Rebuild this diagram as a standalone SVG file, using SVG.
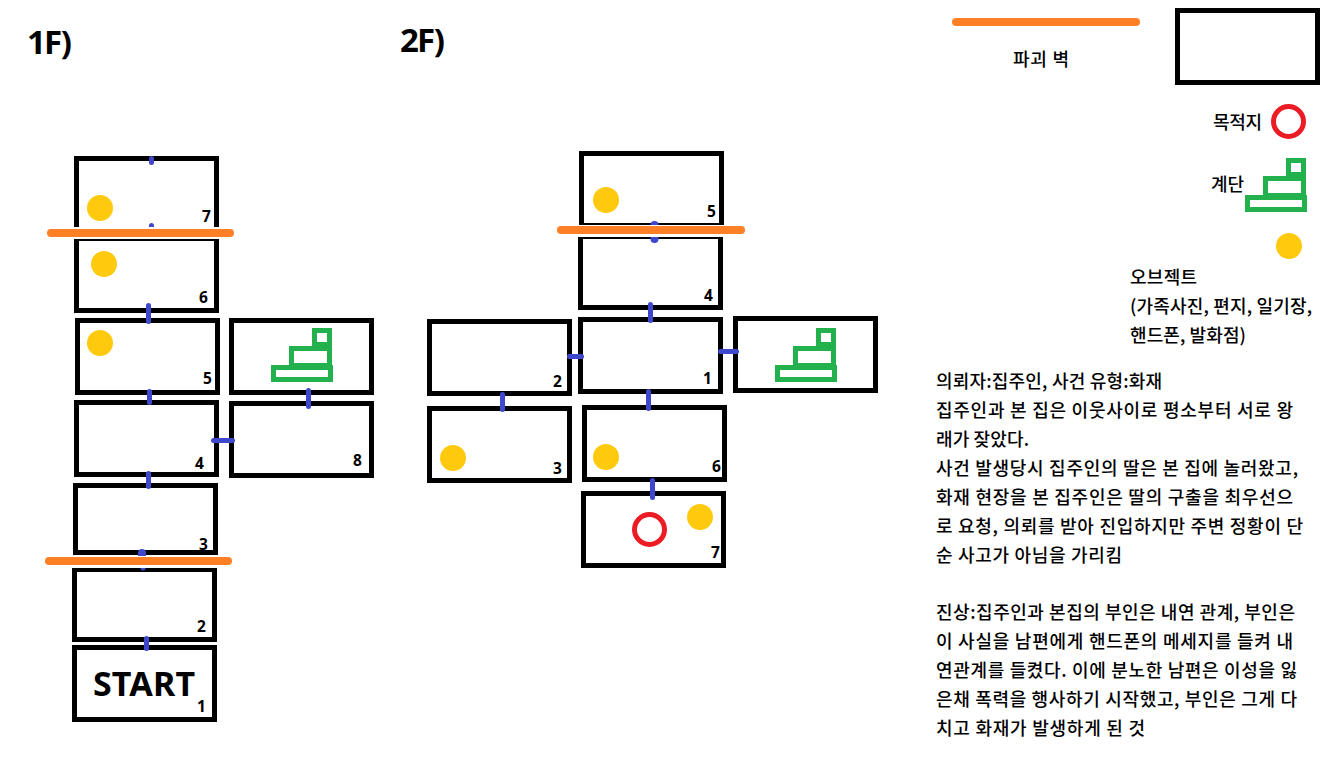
<svg xmlns="http://www.w3.org/2000/svg" width="1328" height="764" viewBox="0 0 1328 764">
<defs>
<style>
.room{fill:#fff;stroke:#000;stroke-width:5}
.door{fill:none;stroke:#3f48cc;stroke-width:5;stroke-linecap:round}
.wall{fill:none;stroke:#ff7f27;stroke-width:8;stroke-linecap:round}
.obj{fill:#ffc90e}
.goal{fill:none;stroke:#ed1c24;stroke-width:5}
.st{fill:none;stroke:#22b14c;stroke-width:5}
.gap{fill:#fff}
text{font-family:"Noto Sans","Noto Sans CJK KR",sans-serif;fill:#000}
.num{font-size:15.5px;font-weight:700}
.title{font-size:33px;font-weight:700}
.start{font-size:34px;font-weight:700}
.ko{font-family:"Noto Sans CJK KR","Noto Sans",sans-serif;font-size:18px;font-weight:500}
</style>
<g id="stairs"><rect class="st" x="2.5" y="39.5" width="57" height="12"/><rect class="st" x="20.5" y="20.5" width="38" height="17"/><rect class="st" x="43.5" y="2.5" width="15" height="14"/></g>
</defs>
<rect width="1328" height="764" fill="#fff"/>
<text class="title" x="27" y="54" textLength="45">1F)</text>
<text class="title" x="400" y="52" textLength="45">2F)</text>

<g id="f1-room-7"><rect class="room" x="76.5" y="158.5" width="140" height="90"/><circle class="obj" cx="100" cy="208" r="13"/><text class="num" x="202" y="222">7</text></g>
<g id="f1-room-6"><rect class="room" x="76.5" y="238.5" width="140" height="72"/><circle class="obj" cx="104" cy="264" r="13"/><text class="num" x="199" y="303">6</text></g>
<g id="f1-room-5"><rect class="room" x="77.5" y="320.5" width="140" height="72"/><circle class="obj" cx="100" cy="343" r="13"/><text class="num" x="203" y="384">5</text></g>
<g id="f1-room-stair"><rect class="room" x="231.5" y="320.5" width="140" height="72"/><use href="#stairs" x="271" y="328"/></g>
<g id="f1-room-4"><rect class="room" x="76.5" y="402.5" width="140" height="72"/><text class="num" x="195" y="469">4</text></g>
<g id="f1-room-8"><rect class="room" x="231.5" y="403.5" width="140" height="72"/><text class="num" x="353" y="466">8</text></g>
<g id="f1-room-3"><rect class="room" x="75.5" y="485.5" width="140" height="67"/><text class="num" x="199" y="550">3</text></g>
<g id="f1-room-2"><rect class="room" x="74.5" y="569.5" width="140" height="70"/><text class="num" x="197" y="632">2</text></g>
<g id="f1-room-1"><rect class="room" x="74.5" y="647.5" width="140" height="72"/><text class="start" x="93" y="696" textLength="102">START</text><text class="num" x="197" y="712">1</text></g>

<g id="f2-room-5"><rect class="room" x="581.5" y="153.5" width="140" height="72"/><circle class="obj" cx="606" cy="200" r="13"/><text class="num" x="707" y="217">5</text></g>
<g id="f2-room-4"><rect class="room" x="580.5" y="236.5" width="140" height="71"/><text class="num" x="704" y="301">4</text></g>
<g id="f2-room-1"><rect class="room" x="580.5" y="319.5" width="140" height="72"/><text class="num" x="703" y="384">1</text></g>
<g id="f2-room-2"><rect class="room" x="429.5" y="321.5" width="140" height="72"/><text class="num" x="553" y="387">2</text></g>
<g id="f2-room-3"><rect class="room" x="429.5" y="408.5" width="140" height="72"/><circle class="obj" cx="453" cy="458" r="13"/><text class="num" x="553" y="474">3</text></g>
<g id="f2-room-6"><rect class="room" x="584.5" y="407.5" width="140" height="72"/><circle class="obj" cx="606" cy="457" r="13"/><text class="num" x="712" y="472">6</text></g>
<g id="f2-room-7"><rect class="room" x="583.5" y="493.5" width="140" height="72"/><circle class="goal" cx="649.5" cy="529.5" r="15"/><circle class="obj" cx="700" cy="517" r="13"/><text class="num" x="711" y="558">7</text></g>
<g id="f2-room-stair"><rect class="room" x="735.5" y="318.5" width="140" height="72"/><use href="#stairs" x="775" y="328"/></g>

<g id="connectors">
<path class="door" d="M151.5 158.5V162.5M151.5 225.5V230"/>
<path class="door" d="M148.5 305.5V321.5M149.5 391.5V402.5M308.5 390.5V406.5M213.5 440.5H232.5M148.5 473.5V486.5M146.5 638.5V648.5"/>
<path class="door" style="stroke-width:8" d="M142 553V558"/>
<path class="door" d="M143 560V568"/>
<path class="door" style="stroke-width:8" d="M654.5 225V239"/>
<path class="door" d="M650.5 304.5V320.5M569.5 356.5H581.5M720.5 351.5H736.5M502.5 394.5V409.5M648.5 391.5V408.5M652.5 480.5V497.5"/>
</g>

<g id="broken-walls">
<rect class="gap" x="46" y="227" width="188" height="12"/>
<path class="wall" d="M51 233H230"/>
<rect class="gap" x="45" y="556" width="188" height="12"/>
<path class="wall" d="M49 561H228"/>
<rect class="gap" x="557" y="225" width="188" height="12"/>
<path class="wall" d="M561 230H741"/>
</g>

<g id="legend-wall"><path class="wall" d="M956 22H1136"/><text class="ko" x="1013" y="66" textLength="56">파괴 벽</text></g>
<g id="legend-room"><rect x="1177.5" y="10.5" width="140" height="72" fill="#fff" stroke="#000" stroke-width="5"/></g>
<g id="legend-goal"><text class="ko" x="1213" y="129" textLength="49">목적지</text><circle class="goal" cx="1288.5" cy="121.5" r="15"/></g>
<g id="legend-stairs"><text class="ko" x="1211" y="191" textLength="33">계단</text><use href="#stairs" x="1245" y="158"/></g>
<g id="legend-object"><circle class="obj" cx="1289" cy="246" r="13"/>
<text class="ko" x="1130" y="284" textLength="67">오브젝트</text>
<text class="ko" x="1130" y="313" textLength="182">(가족사진, 편지, 일기장,</text>
<text class="ko" x="1130" y="342" textLength="116">핸드폰, 발화점)</text></g>

<g id="description">
<text class="ko" x="936" y="388" textLength="226">의뢰자:집주인, 사건 유형:화재</text>
<text class="ko" x="936" y="417" textLength="357">집주인과 본 집은 이웃사이로 평소부터 서로 왕</text>
<text class="ko" x="936" y="446" textLength="93">래가 잦았다.</text>
<text class="ko" x="936" y="475" textLength="362">사건 발생당시 집주인의 딸은 본 집에 놀러왔고,</text>
<text class="ko" x="936" y="504" textLength="357">화재 현장을 본 집주인은 딸의 구출을 최우선으</text>
<text class="ko" x="936" y="533" textLength="367">로 요청, 의뢰를 받아 진입하지만 주변 정황이 단</text>
<text class="ko" x="936" y="562" textLength="186">순 사고가 아님을 가리킴</text>
<text class="ko" x="936" y="619" textLength="359">진상:집주인과 본집의 부인은 내연 관계, 부인은</text>
<text class="ko" x="936" y="648" textLength="357">이 사실을 남편에게 핸드폰의 메세지를 들켜 내</text>
<text class="ko" x="936" y="677" textLength="361">연관계를 들켰다. 이에 분노한 남편은 이성을 잃</text>
<text class="ko" x="936" y="706" textLength="361">은채 폭력을 행사하기 시작했고, 부인은 그게 다</text>
<text class="ko" x="936" y="735" textLength="209">치고 화재가 발생하게 된 것</text>
</g>
</svg>
